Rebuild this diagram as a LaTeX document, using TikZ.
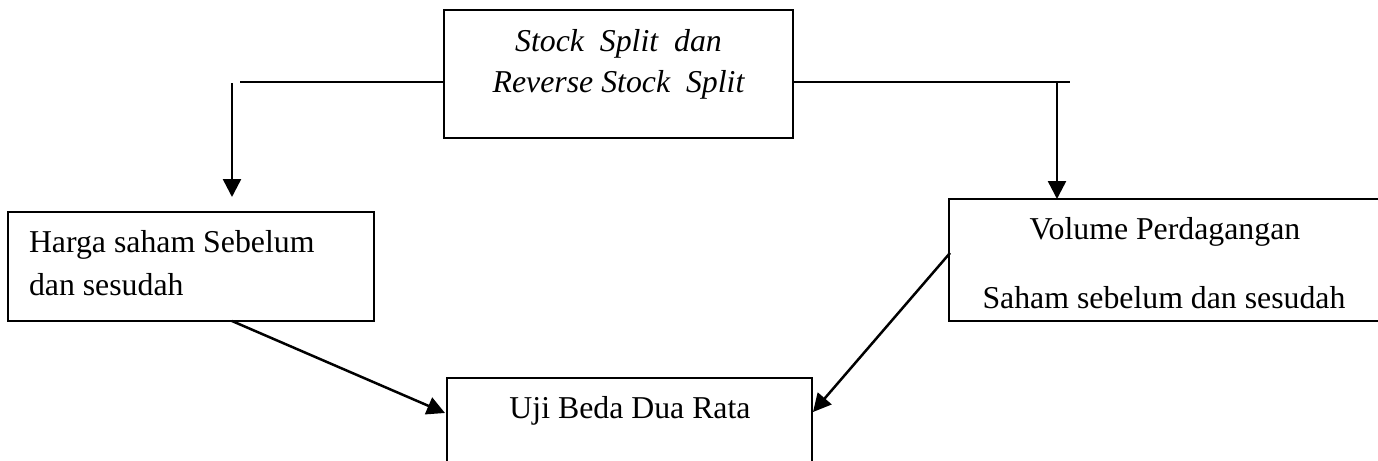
\documentclass[tikz,border=0pt]{standalone}
\usepackage{fontspec}
\setmainfont{Liberation Serif}
\usetikzlibrary{arrows.meta,calc}
\begin{document}
\begin{tikzpicture}[x=0.5pt,y=-0.5pt,
  every node/.style={font=\fontsize{15.9}{19}\selectfont},
  box/.style={draw, line width=1pt, rectangle, inner sep=0pt, outer sep=0pt},
  txt/.style={inner sep=0pt, outer sep=0pt},
  link/.style={line width=1.1pt},
  arr/.style={line width=1.25pt, -{Triangle[width=9pt,length=9pt]}}]
\useasboundingbox (0,0) rectangle (1378,461);
\clip (0,0) rectangle (1378,461);

% boxes
\node[box, minimum width=174.5pt, minimum height=64pt] (top) at (618.5,74) {};
\node[box, minimum width=183pt, minimum height=54.5pt] (left) at (191,266.5) {};
\node[box, minimum width=220pt, minimum height=61pt] (right) at (1169,260) {};
\node[box, minimum width=182.5pt, minimum height=51pt] (ubd) at (629.5,429) {};

% texts
\node[txt, anchor=base] (ta) at (618.5,51.5) {\itshape Stock\ \ Split\ \ dan};
\node[txt, anchor=base] (tb) at (618.5,92) {\itshape Reverse Stock\ \ Split};
\node[txt, anchor=base west] (la1) at (29,252) {Harga saham Sebelum};
\node[txt, anchor=base west] (la2) at (29,295) {dan sesudah};
\node[txt, anchor=base] (ra1) at (1165,239) {Volume Perdagangan};
\node[txt, anchor=base] (ra2) at (1164,308) {Saham sebelum dan sesudah};
\node[txt, anchor=base] (ua) at (630,418) {Uji Beda Dua Rata};

% branch points of the top connectors
\coordinate (lh) at (240,82);
\coordinate (ld) at (232,83);
\coordinate (rh) at (1070,82);
\coordinate (rd) at (1057,82);

% connectors
\draw[link] (lh -| top.west) -- (lh);
\draw[arr, shorten >=7.5pt] (ld) -- (ld |- left.north);
\draw[link] (rh -| top.east) -- (rh);
\draw[arr] (rd) -- (rd |- right.north);
\draw[arr] ($(left.south west)!0.612!(left.south east)$) -- ($(ubd.north west)+(-2,35)$);
\draw[arr] ($(right.north west)+(1,54)$) -- ($(ubd.north east)+(1,34)$);
\end{tikzpicture}
\end{document}
